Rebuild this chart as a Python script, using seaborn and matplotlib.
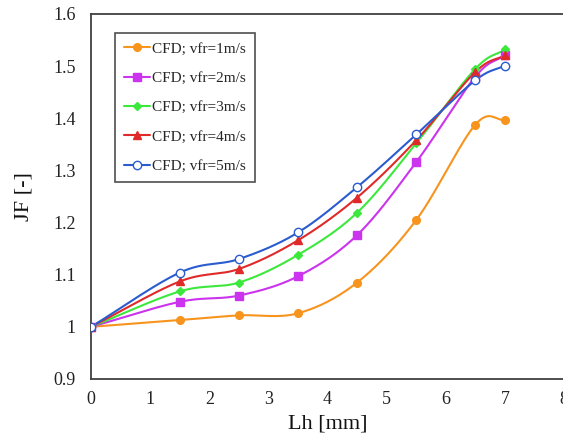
import numpy as np
import pandas as pd
import matplotlib
matplotlib.use("Agg")
import matplotlib.pyplot as plt
import seaborn as sns
from matplotlib.lines import Line2D

sns.set_style("white")
plt.rcParams['font.family'] = ['Liberation Serif', 'DejaVu Serif']

lh = [0, 1.5, 2.5, 3.5, 4.5, 5.5, 6.5, 7]
jf_1 = [1.0, 1.013, 1.022, 1.026, 1.085, 1.205, 1.388, 1.397]
jf_2 = [1.0, 1.048, 1.060, 1.097, 1.176, 1.316, 1.480, 1.521]
jf_3 = [1.0, 1.068, 1.085, 1.138, 1.219, 1.352, 1.495, 1.532]
jf_4 = [1.0, 1.087, 1.111, 1.166, 1.248, 1.358, 1.489, 1.521]
jf_5 = [1.0, 1.104, 1.130, 1.181, 1.268, 1.369, 1.473, 1.501]
labels = ["CFD; vfr=1m/s", "CFD; vfr=2m/s", "CFD; vfr=3m/s", "CFD; vfr=4m/s", "CFD; vfr=5m/s"]
series = [jf_1, jf_2, jf_3, jf_4, jf_5]
colors = ["#F7941D", "#CC33EE", "#3DE83D", "#E02A2A", "#2A5CD0"]
markers = ["o", "s", "D", "^", "o"]
msizes = [5.5, 5.5, 4.0, 6.0, 6.0]
filled = [True, True, True, True, False]


def smooth(x, y, n=30):
    # Catmull-Rom style curve (display smoothing, like spreadsheet smoothed lines)
    x = np.asarray(x, float); y = np.asarray(y, float)
    px = np.concatenate([[2 * x[0] - x[1]], x, [2 * x[-1] - x[-2]]])
    py = np.concatenate([[2 * y[0] - y[1]], y, [2 * y[-1] - y[-2]]])
    xs, ys = [], []
    for i in range(1, len(px) - 2):
        t = np.linspace(0, 1, n, endpoint=False)
        p0, p1, p2, p3 = [np.array([px[j], py[j]]) for j in range(i - 1, i + 3)]
        b1 = p1 + (p2 - p0) / 6
        b2 = p2 - (p3 - p1) / 6
        for tt in t:
            pt = ((1 - tt) ** 3) * p1 + 3 * ((1 - tt) ** 2) * tt * b1 + 3 * (1 - tt) * tt ** 2 * b2 + tt ** 3 * p2
            xs.append(pt[0]); ys.append(pt[1])
    xs.append(x[-1]); ys.append(y[-1])
    return np.array(xs), np.array(ys)


fig = plt.figure(figsize=(5.63, 4.43), dpi=100)
ax = fig.add_axes([91 / 563, 1 - 379 / 443, 1 - 91 / 563 + 0.002, (379 - 14) / 443])

for yv, lab, c, m, ms, f in zip(series, labels, colors, markers, msizes, filled):
    sx, sy = smooth(lh, yv)
    sns.lineplot(x=sx, y=sy, ax=ax, color=c, linewidth=1.5, sort=False, estimator=None)
    df = pd.DataFrame({"x": lh, "y": yv})
    ax.plot(df.x, df.y, linestyle="none", marker=m, markersize=ms, color=c,
            markerfacecolor=c if f else "white", markeredgecolor=c, markeredgewidth=1.0,
            zorder=3)

ax.set_xlim(0, 8)
ax.set_ylim(0.9, 1.6)
ax.set_xticks(range(0, 9))
ax.set_yticks([0.9, 1.0, 1.1, 1.2, 1.3, 1.4, 1.5, 1.6])
ax.set_yticklabels(["0.9", "1", "1.1", "1.2", "1.3", "1.4", "1.5", "1.6"])
ax.tick_params(axis="y", length=0, labelsize=13, colors="#222222", pad=11)
ax.tick_params(axis="x", length=0, labelsize=13, colors="#222222", pad=9)
ax.set_xlabel("Lh [mm]", fontsize=16, color="#111111", labelpad=4)
ax.set_ylabel("JF [-]", fontsize=16, color="#111111", labelpad=14)
for s in ax.spines.values():
    s.set_color("#404040")
    s.set_linewidth(1.3)

handles = [Line2D([0], [0], color=c, marker=m, markersize=ms, linewidth=1.5,
                  markerfacecolor=c if f else "white", markeredgecolor=c)
           for c, m, ms, f in zip(colors, markers, msizes, filled)]
leg = ax.legend(handles, labels, loc="upper left", bbox_to_anchor=(0.0508, 0.948),
                borderaxespad=0, fontsize=11.0, frameon=True, fancybox=False,
                handlelength=1.7, handletextpad=0.15, labelspacing=1.02, borderpad=0.6)
leg.get_frame().set_edgecolor("#222222")
leg.get_frame().set_linewidth(1.2)

fig.savefig("out.png", dpi=100)
